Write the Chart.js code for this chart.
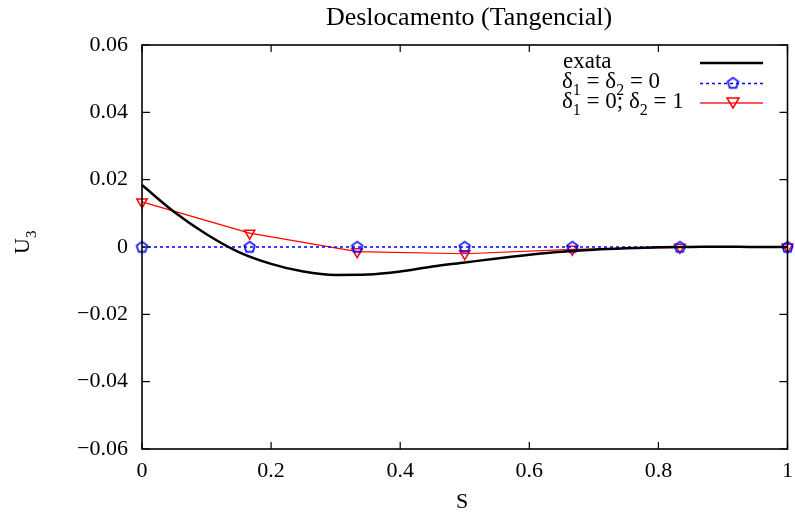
<!DOCTYPE html>
<html lang="en">
<head>
<meta charset="UTF-8">
<title>Deslocamento (Tangencial)</title>
<script src="https://cdn.jsdelivr.net/npm/chart.js"></script>
<style>
  html, body { margin: 0; padding: 0; background: #fff; }
  #wrap { width: 795px; height: 518px; }
</style>
</head>
<body>
<div id="wrap"><canvas id="chart"></canvas></div>
<script>
// nodal values (s = 0, 1/6, ..., 1)
const sNodes = [0, 0.1667, 0.3333, 0.5, 0.6667, 0.8333, 1];
const uDelta00 = [0, 0, 0, 0, 0, 0, 0];
const uDelta01 = [0.0134, 0.0041, -0.0014, -0.0020, -0.0007, -0.0001, 0];

// exact solution
const sExact = [0, 0.05, 0.1, 0.15, 0.2, 0.25, 0.3, 0.35, 0.4, 0.45, 0.5,
                0.55, 0.6, 0.65, 0.7, 0.75, 0.8, 0.85, 0.9, 0.95, 1];
const uExact = [0.0184, 0.0104, 0.0038, -0.0015, -0.0050, -0.0073, -0.0083, -0.0082, -0.0073, -0.0058, -0.0046,
                -0.0034, -0.0023, -0.0014, -0.0008, -0.0004, -0.0001, 0, 0.0001, 0, 0];

const yTicks = [-0.06, -0.04, -0.02, 0, 0.02, 0.04, 0.06];
const xTicks = [0, 0.2, 0.4, 0.6, 0.8, 1];
const xTickLabels = ['0', '0.2', '0.4', '0.6', '0.8', '1'];

const FONT = '"Liberation Serif", "Times New Roman", serif';

// open pentagon marker
function pentagon(color) {
  const c = document.createElement('canvas');
  c.width = 15; c.height = 15;
  const g = c.getContext('2d');
  g.strokeStyle = color; g.lineWidth = 1.6;
  g.beginPath();
  for (let i = 0; i < 5; i++) {
    const a = -Math.PI / 2 + i * 2 * Math.PI / 5;
    const px = 7.5 + 5.6 * Math.cos(a), py = 7.8 + 5.6 * Math.sin(a);
    i ? g.lineTo(px, py) : g.moveTo(px, py);
  }
  g.closePath(); g.stroke();
  return c;
}
const pentBlue = pentagon('#0000ff');

// text with subscripts: parts = [[text, isSub], ...]
function richText(ctx, parts, x, y, size) {
  let cx = x;
  for (const [t, sub] of parts) {
    ctx.font = (sub ? Math.round(size * 0.7) : size) + 'px ' + FONT;
    ctx.fillText(t, cx, sub ? y + size * 0.3 : y);
    cx += ctx.measureText(t).width;
  }
}

const decorations = {
  id: 'decorations',
  afterDatasetsDraw(chart) {
    const { ctx, chartArea: a, scales } = chart;
    ctx.save();
    // frame
    ctx.strokeStyle = '#000'; ctx.lineWidth = 1.6;
    ctx.strokeRect(a.left, a.top, a.right - a.left, a.bottom - a.top);
    // inward ticks, mirrored
    ctx.lineWidth = 1.2;
    ctx.beginPath();
    yTicks.forEach(v => {
      const y = scales.y.getPixelForValue(v);
      ctx.moveTo(a.left, y); ctx.lineTo(a.left + 8, y);
      ctx.moveTo(a.right, y); ctx.lineTo(a.right - 8, y);
    });
    xTicks.forEach(v => {
      const x = scales.x.getPixelForValue(v);
      ctx.moveTo(x, a.bottom); ctx.lineTo(x, a.bottom - 7);
      ctx.moveTo(x, a.top); ctx.lineTo(x, a.top + 7);
    });
    ctx.stroke();

    ctx.fillStyle = '#000';
    ctx.textBaseline = 'alphabetic';
    // x tick labels (drawn here so the last label may overhang the canvas edge)
    ctx.font = '22px ' + FONT;
    ctx.textAlign = 'center';
    xTicks.forEach((v, i) => {
      ctx.fillText(xTickLabels[i], scales.x.getPixelForValue(v), a.bottom + 28);
    });
    // title
    ctx.font = '26px ' + FONT;
    ctx.fillText('Deslocamento (Tangencial)', 469, 25);
    // x title
    ctx.font = '22px ' + FONT;
    ctx.fillText('S', 462, 508);
    // y title U_3
    ctx.save();
    ctx.translate(29, 254);
    ctx.rotate(-Math.PI / 2);
    ctx.textAlign = 'left';
    richText(ctx, [['U', false], ['3', true]], 0, 0, 22);
    ctx.restore();

    // legend
    ctx.textAlign = 'left';
    richText(ctx, [['exata', false]], 563, 68, 23);
    richText(ctx, [['δ', false], ['1', true], [' = δ', false], ['2', true], [' = 0', false]], 562, 88, 23);
    richText(ctx, [['δ', false], ['1', true], [' = 0; δ', false], ['2', true], [' = 1', false]], 562, 108, 23);

    ctx.lineWidth = 2.5; ctx.strokeStyle = '#000'; ctx.setLineDash([]);
    ctx.beginPath(); ctx.moveTo(700, 63); ctx.lineTo(763, 63); ctx.stroke();

    ctx.lineWidth = 1.3; ctx.strokeStyle = '#0000ff'; ctx.setLineDash([3, 3]);
    ctx.beginPath(); ctx.moveTo(700, 83.5); ctx.lineTo(763, 83.5); ctx.stroke();
    ctx.setLineDash([]);
    ctx.drawImage(pentBlue, 733 - 7.5, 83 - 7.5);

    ctx.strokeStyle = '#ff2020'; ctx.lineWidth = 1.5;
    ctx.beginPath(); ctx.moveTo(700, 103); ctx.lineTo(763, 103); ctx.stroke();
    ctx.strokeStyle = '#ff0000';
    ctx.beginPath();
    ctx.moveTo(727, 98); ctx.lineTo(739, 98); ctx.lineTo(733, 108); ctx.closePath();
    ctx.stroke();
    ctx.restore();
  }
};

const toXY = (xs, ys) => xs.map((x, i) => ({ x: x, y: ys[i] }));

new Chart(document.getElementById('chart'), {
  type: 'line',
  data: {
    datasets: [
      {
        label: 'exata',
        data: toXY(sExact, uExact),
        borderColor: '#000',
        borderWidth: 2.5,
        pointRadius: 0,
        cubicInterpolationMode: 'monotone',
        clip: false
      },
      {
        label: 'δ1 = δ2 = 0',
        data: toXY(sNodes, uDelta00),
        borderColor: '#0000ff',
        borderWidth: 1.3,
        borderDash: [3, 3],
        pointStyle: pentBlue,
        pointRadius: 6,
        clip: false
      },
      {
        label: 'δ1 = 0; δ2 = 1',
        data: toXY(sNodes, uDelta01),
        borderColor: '#ff0000',
        borderWidth: 1.2,
        pointStyle: 'triangle',
        pointRotation: 180,
        pointRadius: 6,
        pointBorderWidth: 1.5,
        pointBackgroundColor: 'rgba(0,0,0,0)',
        pointBorderColor: '#ff0000',
        clip: false
      }
    ]
  },
  options: {
    responsive: true,
    maintainAspectRatio: false,
    animation: false,
    layout: { padding: { top: 45, right: 5, bottom: 0, left: 0 } },
    plugins: { legend: { display: false }, title: { display: false }, tooltip: { enabled: false } },
    scales: {
      x: {
        type: 'linear',
        min: 0, max: 1,
        afterFit: s => { s.height = 69; },
        afterBuildTicks: s => { s.ticks = xTicks.map(v => ({ value: v })); },
        grid: { display: false, drawTicks: false },
        border: { display: false },
        ticks: { display: false }
      },
      y: {
        min: -0.06, max: 0.06,
        afterFit: s => { s.width = 142; },
        afterBuildTicks: s => { s.ticks = yTicks.map(v => ({ value: v })); },
        grid: { display: false, drawTicks: false },
        border: { display: false },
        ticks: {
          color: '#000',
          padding: 14,
          font: { family: FONT, size: 22 },
          callback: v => Math.abs(v) < 1e-9 ? '0' : v.toFixed(2).replace('-', '\u2212')
        }
      }
    }
  },
  plugins: [decorations]
});
</script>
</body>
</html>
